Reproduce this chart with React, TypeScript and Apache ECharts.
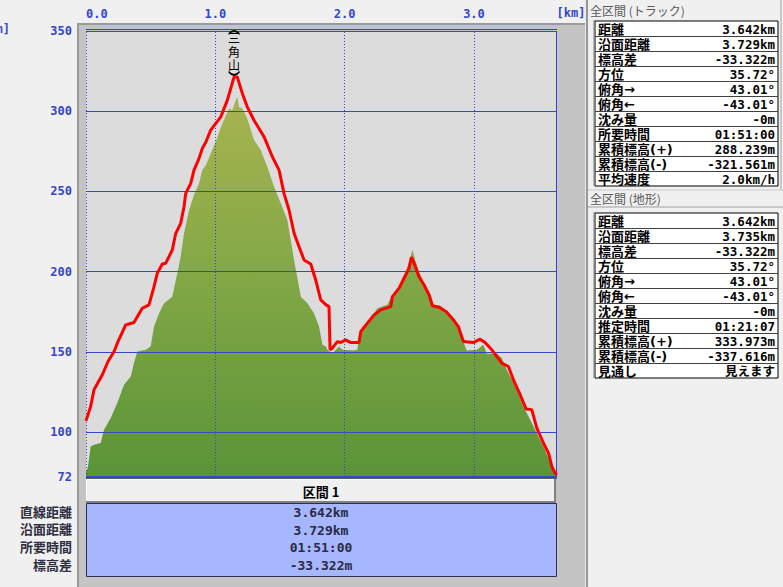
import React, { useEffect, useRef } from "react";
import * as echarts from "echarts";

const terrainKm = [0, 0.015, 0.036, 0.062, 0.114, 0.139, 0.191, 0.242, 0.294, 0.346, 0.371, 0.397, 0.462, 0.5, 0.526, 0.565, 0.603, 0.667, 0.706, 0.732, 0.758, 0.797, 0.835, 0.874, 0.899, 0.928, 0.964, 1.003, 1.054, 1.106, 1.131, 1.158, 1.17, 1.183, 1.209, 1.247, 1.299, 1.351, 1.402, 1.454, 1.506, 1.557, 1.609, 1.661, 1.712, 1.763, 1.802, 1.828, 1.856, 1.866, 1.905, 1.957, 1.982, 2.06, 2.098, 2.111, 2.15, 2.202, 2.253, 2.33, 2.369, 2.421, 2.473, 2.506, 2.524, 2.55, 2.575, 2.614, 2.666, 2.691, 2.743, 2.802, 2.854, 2.893, 2.931, 2.944, 3.022, 3.073, 3.099, 3.176, 3.215, 3.254, 3.292, 3.331, 3.382, 3.447, 3.498, 3.55, 3.589, 3.627, 3.642];
const terrainM = [75, 78, 91, 92.1, 93.2, 101.5, 108.8, 118.1, 129.5, 134.6, 143, 150.2, 151.3, 153.3, 165.8, 174.1, 180.3, 184.4, 199, 209.3, 223.9, 238.4, 247.7, 255, 263.3, 266.4, 273.7, 281, 292.4, 301.7, 300.6, 306.9, 308.9, 302.7, 301.7, 295.5, 282, 275.8, 265.4, 252.9, 242.6, 232.2, 207.3, 184.4, 180.3, 174.1, 165.8, 154.4, 153.3, 151.3, 149.2, 153.3, 151.3, 150.8, 151.3, 159.6, 165.8, 171, 177.2, 179.3, 185.5, 190.7, 200, 208.3, 213.5, 206.2, 200, 192.8, 185.5, 179.3, 178.7, 174.1, 167.9, 162.7, 153.3, 150.8, 151.3, 154.4, 148.8, 149.2, 146.1, 138.8, 132.6, 126.4, 116, 105.6, 97.3, 89, 80.7, 74.5, 73];

const trackKm = [0, 0.036, 0.062, 0.126, 0.17, 0.217, 0.242, 0.307, 0.371, 0.435, 0.487, 0.526, 0.551, 0.59, 0.616, 0.667, 0.694, 0.732, 0.758, 0.771, 0.81, 0.835, 0.874, 0.899, 0.928, 0.964, 1.042, 1.093, 1.145, 1.17, 1.209, 1.247, 1.299, 1.377, 1.441, 1.493, 1.531, 1.57, 1.609, 1.647, 1.686, 1.738, 1.776, 1.815, 1.856, 1.879, 1.887, 1.905, 1.944, 1.97, 2.008, 2.047, 2.111, 2.125, 2.176, 2.227, 2.279, 2.357, 2.369, 2.421, 2.459, 2.498, 2.516, 2.537, 2.575, 2.614, 2.653, 2.678, 2.73, 2.784, 2.841, 2.879, 2.918, 2.995, 3.047, 3.086, 3.138, 3.215, 3.266, 3.305, 3.357, 3.403, 3.447, 3.486, 3.537, 3.576, 3.602, 3.627, 3.642];
const trackM = [107, 116, 126.4, 135.7, 144, 150.2, 155.4, 166.8, 168.3, 177.2, 179.3, 190.7, 199, 204.8, 205.2, 213.5, 223.9, 230.1, 240.5, 248.8, 255, 263.3, 270.6, 276.8, 281, 288.2, 296.5, 306.9, 321.4, 321.4, 311, 302.7, 294.4, 284, 271.6, 263.3, 248.8, 238.4, 223.9, 215.6, 207.3, 204.8, 194.8, 182.4, 179.3, 178.2, 151.3, 152.3, 156.4, 155.8, 157.5, 155.8, 155.8, 162.7, 167.9, 173, 176.2, 178.2, 184.4, 189.7, 195.9, 202.1, 209, 205.2, 196.9, 191.7, 185.5, 178.7, 177.8, 175.1, 170, 165.8, 156.4, 155.8, 157.9, 155.8, 151.3, 143, 140.9, 132.6, 123.3, 114.4, 114, 102.5, 93.2, 87, 78.6, 74.5, 73.5];

const xMin = 0;
const xMax = 3.642;
const xTicks = [0, 1, 2, 3];
const xTickLabels = ["0.0", "1.0", "2.0", "3.0"];
const xUnit = "[km]";
const yMin = 72;
const yMax = 350;
const yTicks = [72, 100, 150, 200, 250, 300, 350];
const yGridLines = [100, 150, 200, 250, 300];
const yUnit = "[m]";
const peakName = "三角山";

const trackTitle = "全区間 (トラック)";
const trackLabels = ["距離", "沿面距離", "標高差", "方位", "俯角→", "俯角←", "沈み量", "所要時間", "累積標高(+)", "累積標高(-)", "平均速度"];
const trackValues = ["3.642km", "3.729km", "-33.322m", "35.72°", "43.01°", "-43.01°", "-0m", "01:51:00", "288.239m", "-321.561m", "2.0km/h"];
const terrainTitle = "全区間 (地形)";
const terrainLabels = ["距離", "沿面距離", "標高差", "方位", "俯角→", "俯角←", "沈み量", "推定時間", "累積標高(+)", "累積標高(-)", "見通し"];
const terrainValues = ["3.642km", "3.735km", "-33.322m", "35.72°", "43.01°", "-43.01°", "-0m", "01:21:07", "333.973m", "-337.616m", "見えます"];
const sectionName = "区間 1";
const sectionLabels = ["直線距離", "沿面距離", "所要時間", "標高差"];
const sectionValues = ["3.642km", "3.729km", "01:51:00", "-33.322m"];

const BLUE = "#3446cc";
const JP = '"Noto Sans CJK JP", sans-serif';
const ROWJP = '"DejaVu Sans", "Noto Sans CJK JP", sans-serif';
const MONO = '"DejaVu Sans Mono", "Noto Sans CJK JP", monospace';

function line(x1: number, y1: number, x2: number, y2: number, stroke: string, w = 1, z = -5) {
  return { type: "line", silent: true, z, shape: { x1, y1, x2, y2 }, style: { stroke, lineWidth: w } };
}
function text(t: string, x: number, y: number, font: string, fill: string, align = "left", lh = 14, z = 10) {
  return { type: "text", silent: true, z, x, y, style: { text: t, font, fill, align, verticalAlign: "middle", lineHeight: lh } };
}

function infoTable(top: number, labels: string[], values: string[]) {
  const left = 595, w = 183, rh = 15;
  const els: any[] = [];
  els.push({ type: "rect", silent: true, z: -5, shape: { x: left, y: top, width: w, height: rh * labels.length }, style: { fill: "#ffffff", stroke: "#000000", lineWidth: 1 } });
  els.push(line(left - 1, top - 1, left - 1, top + rh * labels.length, "#808080", 1, -4));
  for (let i = 1; i < labels.length; i++) {
    els.push(line(left, top + rh * i + 0.5, left + w, top + rh * i + 0.5, "#404040", 1, -4));
  }
  labels.forEach((l, i) => {
    els.push(text(l, 598, top + rh * i + 8, `bold 13px ${ROWJP}`, "#000000", "left", 13));
    els.push(text(values[i], 775, top + rh * i + 8, `bold 12.5px ${MONO}`, "#000000", "right", 13));
  });
  return els;
}

export default function App() {
  const ref = useRef<HTMLDivElement>(null);
  useEffect(() => {
    document.body.style.margin = "0";
    const chart = echarts.init(ref.current!, undefined, { renderer: "svg" });
    const terrainData = terrainKm.map((k, i) => [k, terrainM[i]]);
    const trackData = trackKm.map((k, i) => [k, trackM[i]]);
    let peakIdx = 0;
    trackM.forEach((v, i) => { if (v > trackM[peakIdx]) peakIdx = i; });
    const peakLabel = peakName.split("").join("\n");

    const gridMarks: any[] = [
      ...yGridLines.map((v) => ({ yAxis: v, lineStyle: { color: BLUE, width: 1, type: "solid" } })),
      { yAxis: yMax, lineStyle: { color: BLUE, width: 1, type: "solid" } },
      { yAxis: yMin, lineStyle: { color: BLUE, width: 2, type: "solid" } },
      ...xTicks.map((v) => ({ xAxis: v, lineStyle: { color: BLUE, width: 1, type: [1, 2] } })),
      { xAxis: xMax, lineStyle: { color: BLUE, width: 1, type: "solid" } },
    ];

    const graphics: any[] = [
      // left panel frame
      { type: "rect", silent: true, z: -10, shape: { x: 77, y: 23, width: 509, height: 564 }, style: { fill: "#c4c4c4" } },
      line(78, 23, 78, 587, "#9a9a9a", 2, -9),
      line(77, 24, 586, 24, "#9a9a9a", 2, -9),
      line(585.5, 0, 585.5, 587, "#e8e8e8", 1, -9),
      line(587, 0, 587, 587, "#7a7a7a", 1.5, -9),
      // plot background
      { type: "rect", silent: true, z: -8, shape: { x: 86, y: 31, width: 471, height: 446 }, style: { fill: "#dcdcdc" } },
      line(86, 29.5, 557, 29.5, BLUE, 1, -7),
      line(86, 478.5, 557, 478.5, "#5a5a5a", 1, -7),
      // section header
      { type: "rect", silent: true, z: -7, shape: { x: 86, y: 479, width: 470, height: 24 }, style: { fill: "#f0f0f0" } },
      line(86, 479.5, 556, 479.5, "#ffffff", 1, -6),
      line(86.5, 479, 86.5, 503, "#ffffff", 1, -6),
      line(86, 502, 556, 502, "#808080", 2, -6),
      line(555, 479, 555, 503, "#808080", 2, -6),
      text(sectionName, 321, 491.5, `bold 13px ${JP}`, "#000000", "center"),
      // section table
      { type: "rect", silent: true, z: -7, shape: { x: 86.5, y: 503.5, width: 470, height: 73 }, style: { fill: "#a6b6ff", stroke: "#2e2e4e", lineWidth: 1 } },
      ...sectionLabels.map((l, i) => text(l, 72, 512 + i * 17.7, `bold 13px ${ROWJP}`, "#2e2e3e", "right")),
      ...sectionValues.map((v, i) => text(v, 321, 512.5 + i * 17.7, `bold 13px ${MONO}`, "#2a2a44", "center")),
      // units
      text(yUnit, 10, 29, `bold 12px ${MONO}`, BLUE, "right"),
      text(xUnit, 571, 13, `bold 12px ${MONO}`, BLUE, "center"),
      // right panel
      line(781, 0, 781, 190, "#a0a0a0", 1, -9),
      text(trackTitle, 590, 10, `12px ${JP}`, "#5a5a5a"),
      ...infoTable(21, trackLabels, trackValues),
      line(588, 190, 783, 190, "#c8c8c8", 1, -9),
      line(588, 207, 783, 207, "#a0a0a0", 1, -9),
      text(terrainTitle, 590, 198, `12px ${JP}`, "#5a5a5a"),
      ...infoTable(213, terrainLabels, terrainValues),
    ];

    chart.setOption({
      animation: false,
      backgroundColor: "#f0f0f0",
      grid: { left: 86, top: 31, width: 471, height: 446, show: false },
      xAxis: {
        type: "value",
        position: "top",
        min: xMin,
        max: xMax,
        interval: 1,
        axisLine: { show: false },
        axisTick: { show: false },
        splitLine: { show: false },
        axisLabel: {
          customValues: xTicks,
          formatter: (v: number) => xTickLabels[xTicks.indexOf(v)] ?? "",
          color: BLUE,
          fontWeight: "bold",
          fontSize: 12,
          fontFamily: MONO,
          margin: 11,
          alignMinLabel: "left",
        },
      },
      yAxis: {
        type: "value",
        min: yMin,
        max: yMax,
        axisLine: { show: false },
        axisTick: { show: false },
        splitLine: { show: false },
        axisLabel: {
          customValues: yTicks,
          color: BLUE,
          fontWeight: "bold",
          fontSize: 12,
          fontFamily: MONO,
          margin: 14,
        },
      },
      graphic: graphics,
      series: [
        {
          type: "line",
          data: terrainData,
          showSymbol: false,
          z: 2,
          lineStyle: { width: 0 },
          areaStyle: {
            origin: "start",
            opacity: 1,
            color: new echarts.graphic.LinearGradient(0, 0, 0, 1, [
              { offset: 0, color: "#a8b450" },
              { offset: 0.45, color: "#84a846" },
              { offset: 1, color: "#5a9438" },
            ]),
          },
          markLine: {
            silent: true,
            symbol: ["none", "none"],
            label: { show: false },
            z: 5,
            data: gridMarks,
          },
        },
        {
          type: "line",
          data: trackData,
          showSymbol: false,
          z: 6,
          lineStyle: { color: "#ff0000", width: 3 },
          markPoint: {
            silent: true,
            z: 7,
            symbol: "path://M0,5 Q6,-1 12,5 M0,41 Q6,47 12,41",
            symbolSize: [11, 44],
            symbolOffset: [0, -24],
            symbolKeepAspect: false,
            itemStyle: { color: "none", borderColor: "#000000", borderWidth: 1 },
            label: {
              show: true,
              position: "inside",
              offset: [0, 0],
              formatter: peakLabel,
              fontSize: 12,
              lineHeight: 13.5,
              color: "#000000",
              fontFamily: ROWJP,
            },
            data: [{ coord: [trackKm[peakIdx], trackM[peakIdx]] }],
          },
        },
      ],
    });
    return () => chart.dispose();
  }, []);
  return <div ref={ref} style={{ width: 783, height: 587, background: "#f0f0f0" }} />;
}
